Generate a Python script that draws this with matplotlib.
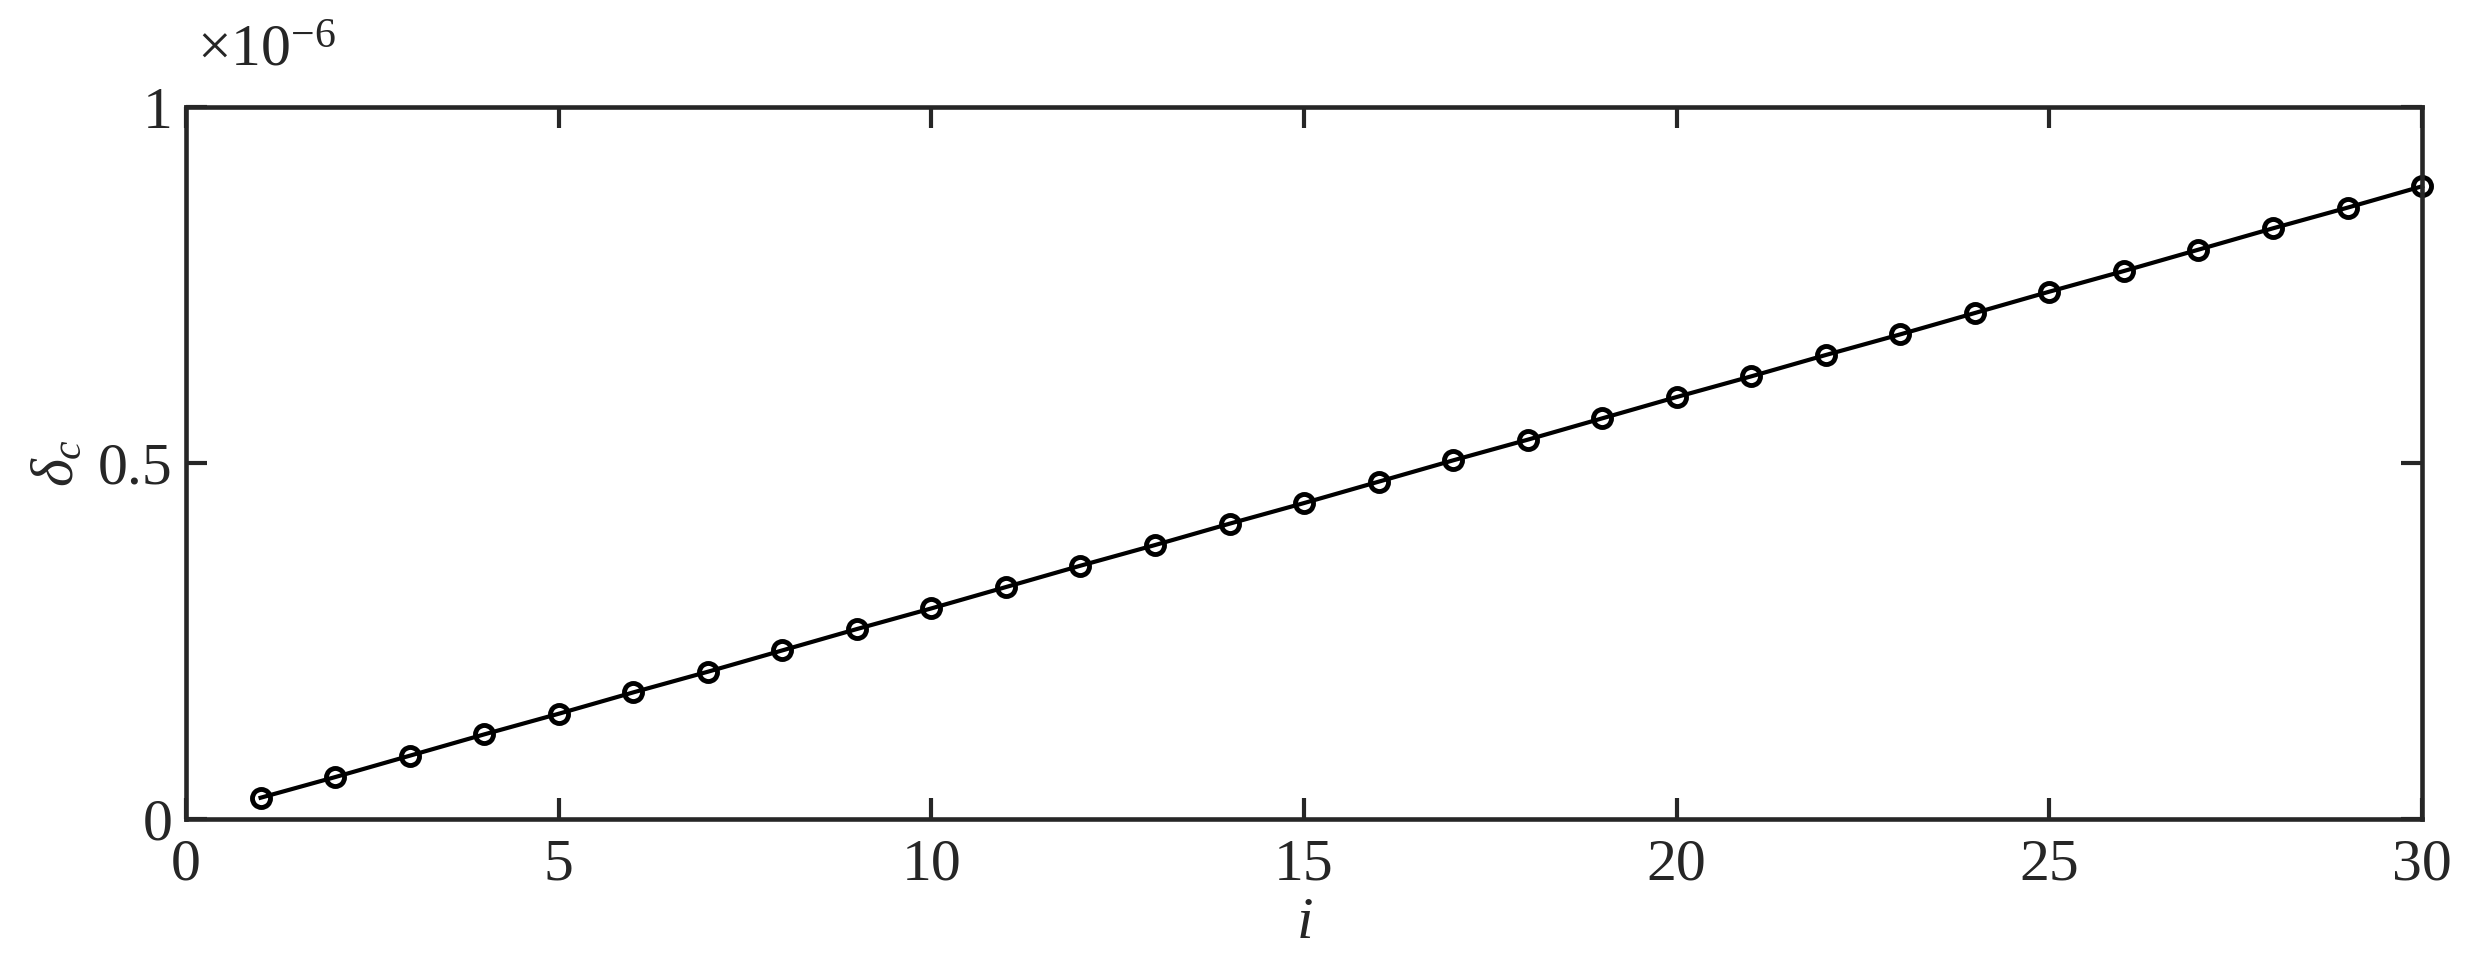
import matplotlib.pyplot as plt

# Daten (delta_c in Einheiten von 1e-6)
i_vals = list(range(1, 31))
delta_c = [0.030, 0.059, 0.089, 0.119, 0.148, 0.178, 0.207, 0.237, 0.267, 0.296,
           0.326, 0.356, 0.385, 0.415, 0.444, 0.474, 0.504, 0.533, 0.563, 0.593,
           0.622, 0.652, 0.681, 0.711, 0.741, 0.770, 0.800, 0.830, 0.859, 0.889]
x_ticks = [0, 5, 10, 15, 20, 25, 30]
y_ticks = [0, 0.5, 1]
y_ticklabels = ['0', '0.5', '1']

plt.rcParams['font.family'] = 'Liberation Serif'
plt.rcParams['mathtext.fontset'] = 'custom'
plt.rcParams['mathtext.rm'] = 'Liberation Serif'
plt.rcParams['mathtext.it'] = 'Liberation Serif:italic'

axcol = '#262626'
fig = plt.figure(figsize=(24.74, 9.58), dpi=100)
ax = fig.add_axes([0.0752, 0.145, 0.9038, 0.743])

ax.plot(i_vals, delta_c, 'o-', color='black', linewidth=3,
        markersize=13, markerfacecolor='none', markeredgewidth=3.5, clip_on=False)

ax.set_xlim(0, 30)
ax.set_ylim(0, 1)
ax.set_xticks(x_ticks)
ax.set_yticks(y_ticks)
ax.set_yticklabels(y_ticklabels)

ax.tick_params(direction='in', length=15, width=3, top=True, right=True,
               labelsize=43, colors=axcol, pad=10)
ax.tick_params(axis='x', pad=14)
for s in ax.spines.values():
    s.set_linewidth(3.3)
    s.set_color(axcol)

ax.set_xlabel(r'$i$', fontsize=43, color=axcol, labelpad=3)
ax.set_ylabel(r'$\delta_c$', fontsize=43, color=axcol, labelpad=8)

ax.text(0.005, 1.04, r'$\times10^{-6}$', transform=ax.transAxes,
        fontsize=43, color=axcol, ha='left', va='bottom')

fig.savefig('out.png', dpi=100)
